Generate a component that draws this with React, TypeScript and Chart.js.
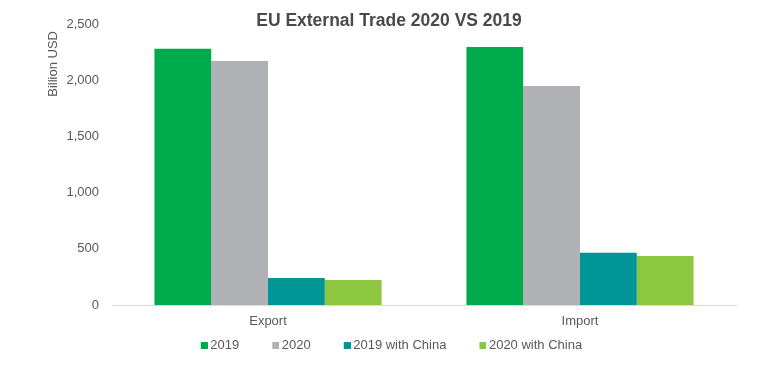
import React, { useEffect, useRef } from "react";
import { Chart, registerables } from "chart.js";

Chart.register(...registerables);

const categories = ["Export", "Import"];
const seriesLabels = ["2019", "2020", "2019 with China", "2020 with China"];
const values2019 = [2280, 2295];
const values2020 = [2170, 1948];
const values2019China = [240, 465];
const values2020China = [222, 436];
const seriesColors = ["#00AB4E", "#B0B1B4", "#009597", "#8DC63F"];
const yTicks = [0, 500, 1000, 1500, 2000, 2500];

const FONT = 'Arial, "Liberation Sans", sans-serif';
const TEXT = "#595959";
const SWATCH_SLOT = 26;

function makeSwatch(color: string): HTMLCanvasElement {
  const c = document.createElement("canvas");
  const w = SWATCH_SLOT + 8;
  c.width = w;
  c.height = 7;
  const ctx = c.getContext("2d")!;
  ctx.fillStyle = color;
  ctx.fillRect(w - 7, 0, 7, 7);
  return c;
}

const layoutNudge = {
  id: "layoutNudge",
  afterLayout(chart: any) {
    if (chart.legend) {
      chart.legend.left -= 9;
      chart.legend.right -= 9;
    }
    // move the y-axis title a little below the top of the plot area
    if (chart.scales && chart.scales.y) {
      chart.scales.y.top += 7;
    }
  },
};

export default function App() {
  const ref = useRef<HTMLCanvasElement | null>(null);

  useEffect(() => {
    if (!ref.current) return;
    const seriesValues = [values2019, values2020, values2019China, values2020China];
    const swatches = seriesColors.map(makeSwatch);
    const chart = new Chart(ref.current, {
      type: "bar",
      data: {
        labels: categories,
        datasets: seriesLabels.map((label, i) => ({
          label,
          data: seriesValues[i],
          backgroundColor: seriesColors[i],
          borderWidth: 0,
          categoryPercentage: 0.728,
          barPercentage: 1,
        })),
      },
      plugins: [layoutNudge],
      options: {
        responsive: false,
        animation: false,
        devicePixelRatio: 1,
        layout: { padding: { left: 42, right: 43, top: 0, bottom: 7 } },
        plugins: {
          tooltip: { enabled: false },
          title: {
            display: true,
            text: "EU External Trade 2020 VS 2019",
            color: "#4a4a4a",
            font: { family: FONT, size: 17.5, weight: "bold", lineHeight: 1.2 },
            padding: { top: 11, bottom: -8 },
          },
          legend: {
            display: true,
            position: "bottom",
            labels: {
              usePointStyle: true,
              pointStyleWidth: SWATCH_SLOT,
              padding: 10,
              color: TEXT,
              font: { family: FONT, size: 13 },
              generateLabels: (ch: any) =>
                ch.data.datasets.map((ds: any, i: number) => ({
                  text: ds.label,
                  fillStyle: ds.backgroundColor,
                  strokeStyle: ds.backgroundColor,
                  lineWidth: 0,
                  pointStyle: swatches[i],
                  hidden: false,
                  datasetIndex: i,
                  fontColor: TEXT,
                })),
            },
          },
        },
        scales: {
          x: {
            grid: { display: false, drawTicks: false },
            border: { display: true, color: "#D9D9D9", width: 1 },
            ticks: { color: TEXT, font: { family: FONT, size: 13 }, padding: 9 },
            afterFit: (scale: any) => {
              scale.height = 24;
            },
          },
          y: {
            min: 0,
            max: 2500,
            grid: { display: false, drawTicks: false },
            border: { display: false },
            afterBuildTicks: (scale: any) => {
              scale.ticks = yTicks.map((v) => ({ value: v }));
            },
            afterFit: (scale: any) => {
              scale.width = 70;
            },
            ticks: {
              color: TEXT,
              font: { family: FONT, size: 13 },
              padding: 13,
              callback: (v: any) => Number(v).toLocaleString("en-US"),
            },
            title: {
              display: true,
              text: "Billion USD",
              align: "end",
              color: TEXT,
              font: { family: FONT, size: 13 },
              padding: { top: 4, bottom: 4 },
            },
          },
        },
      },
    });
    return () => chart.destroy();
  }, []);

  return (
    <div style={{ position: "fixed", left: 0, top: 0, width: 779, height: 369, background: "#fff" }}>
      <canvas ref={ref} width={779} height={369} style={{ width: 779, height: 369, display: "block" }} />
    </div>
  );
}
